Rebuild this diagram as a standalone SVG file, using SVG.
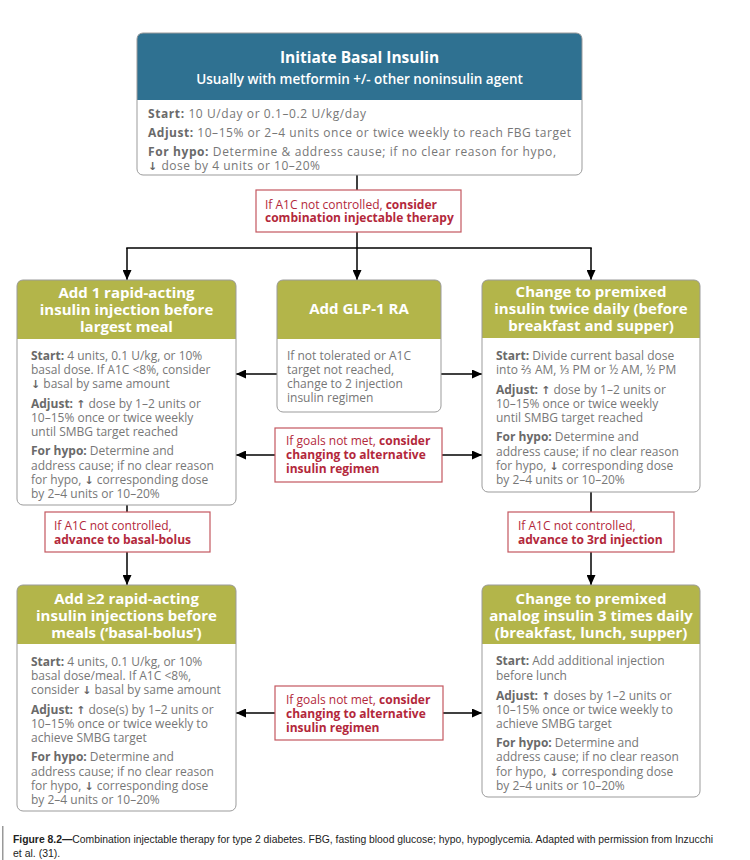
<svg xmlns="http://www.w3.org/2000/svg" width="750" height="860" viewBox="0 0 750 860">
<style>
.hb{fill:#2f7191}
.hg{fill:#b3b54a}
.frame{fill:none;stroke:#9b9b9b;stroke-width:1}
.ht{font-family:"Open Sans","Noto Sans",sans-serif;font-weight:700;fill:#fff;font-size:15px;text-anchor:middle}
.bt{font-family:"Open Sans","Noto Sans",sans-serif;font-size:12px;fill:#777}
.lb{font-weight:700;fill:#6a6a6a}
.ar{font-family:"DejaVu Sans",sans-serif;font-weight:700;font-size:11px;fill:#666}
.rbox{fill:#fff;stroke:#c4575f;stroke-width:1.2}
.rt{font-family:"Open Sans","Noto Sans",sans-serif;font-size:12px;fill:#b3283b}
.rb{font-weight:700}
.conn line{stroke:#000;stroke-width:1.5}
.cap{font-family:"Liberation Sans",Arial,sans-serif;font-size:10.5px;fill:#222}
</style>
<defs>
<marker id="ah" markerUnits="userSpaceOnUse" markerWidth="10" markerHeight="9" refX="10" refY="4.5" orient="auto">
<path d="M0,0 L10,4.5 L0,9 z" fill="#000"/>
</marker>
</defs>
<rect width="750" height="860" fill="#fff"/>

<g class="conn">
<line x1="357" y1="175" x2="357" y2="190"/>
<line x1="357" y1="232" x2="357" y2="248"/>
<line x1="126.25" y1="248" x2="591.75" y2="248"/>
<line x1="127" y1="248" x2="127" y2="280" marker-end="url(#ah)"/>
<line x1="357" y1="248" x2="357" y2="280" marker-end="url(#ah)"/>
<line x1="591" y1="248" x2="591" y2="280" marker-end="url(#ah)"/>
<line x1="277" y1="374" x2="236" y2="374" marker-end="url(#ah)"/>
<line x1="441" y1="374" x2="482" y2="374" marker-end="url(#ah)"/>
<line x1="275" y1="455" x2="236" y2="455" marker-end="url(#ah)"/>
<line x1="442" y1="455" x2="482" y2="455" marker-end="url(#ah)"/>
<line x1="127" y1="505" x2="127" y2="512"/>
<line x1="127" y1="552" x2="127" y2="585" marker-end="url(#ah)"/>
<line x1="591" y1="492" x2="591" y2="512"/>
<line x1="591" y1="552" x2="591" y2="585" marker-end="url(#ah)"/>
<line x1="275" y1="713" x2="236" y2="713" marker-end="url(#ah)"/>
<line x1="443" y1="713" x2="482" y2="713" marker-end="url(#ah)"/>
</g>

<g id="initiate-basal">
<rect x="137" y="33" width="445" height="142" rx="6" fill="#fff"/>
<path class="hb" d="M137,100 V39 Q137,33 143,33 H576 Q582,33 582,39 V100 Z"/>
<rect class="frame" x="137" y="33" width="445" height="142" rx="6"/>
<text class="ht" x="359.5" y="63" style="font-size:15.5px">Initiate Basal Insulin</text>
<text class="ht" x="359.5" y="84" style="font-size:13.5px;font-weight:600">Usually with metformin +/- other noninsulin agent</text>
<text class="bt" x="148" y="117.5" textLength="218"><tspan class="lb">Start:</tspan> 10 U/day or 0.1–0.2 U/kg/day</text>
<text class="bt" x="148" y="136.5" textLength="423"><tspan class="lb">Adjust:</tspan> 10–15% or 2–4 units once or twice weekly to reach FBG target</text>
<text class="bt" x="148" y="156" textLength="408"><tspan class="lb">For hypo:</tspan> Determine &amp; address cause; if no clear reason for hypo,</text>
<text class="bt" x="148" y="169.5" textLength="172"><tspan class="ar">↓</tspan> dose by 4 units or 10–20%</text>
</g>

<g id="cond-combination">
<rect class="rbox" x="256" y="190" width="205" height="42"/>
<text class="rt" x="265" y="208.5">If A1C not controlled, <tspan class="rb">consider</tspan></text>
<text class="rt rb" x="265" y="222">combination injectable therapy</text>
</g>

<g id="add-rapid">
<rect x="17" y="280" width="219" height="225" rx="6" fill="#fff"/>
<path class="hg" d="M17,339 V286 Q17,280 23,280 H230 Q236,280 236,286 V339 Z"/>
<rect class="frame" x="17" y="280" width="219" height="225" rx="6"/>
<text class="ht" x="126.5" y="297.5">Add 1 rapid-acting</text>
<text class="ht" x="126.5" y="314.5">insulin injection before</text>
<text class="ht" x="126.5" y="332">largest meal</text>
<text class="bt" x="31" y="359.5"><tspan class="lb">Start:</tspan> 4 units, 0.1 U/kg, or 10%</text>
<text class="bt" x="31" y="374">basal dose. If A1C &lt;8%, consider</text>
<text class="bt" x="31" y="388"><tspan class="ar">↓</tspan> basal by same amount</text>
<text class="bt" x="31" y="407.5"><tspan class="lb">Adjust:</tspan> <tspan class="ar">↑</tspan> dose by 1–2 units or</text>
<text class="bt" x="31" y="421.5">10–15% once or twice weekly</text>
<text class="bt" x="31" y="436">until SMBG target reached</text>
<text class="bt" x="31" y="455"><tspan class="lb">For hypo:</tspan> Determine and</text>
<text class="bt" x="31" y="469.5">address cause; if no clear reason</text>
<text class="bt" x="31" y="483.5">for hypo, <tspan class="ar">↓</tspan> corresponding dose</text>
<text class="bt" x="31" y="498">by 2–4 units or 10–20%</text>
</g>

<g id="add-glp1">
<rect x="277" y="280" width="164" height="132" rx="6" fill="#fff"/>
<path class="hg" d="M277,339 V286 Q277,280 283,280 H435 Q441,280 441,286 V339 Z"/>
<rect class="frame" x="277" y="280" width="164" height="132" rx="6"/>
<text class="ht" x="359" y="314">Add GLP-1 RA</text>
<text class="bt" x="287" y="359.5">If not tolerated or A1C</text>
<text class="bt" x="287" y="374">target not reached,</text>
<text class="bt" x="287" y="388">change to 2 injection</text>
<text class="bt" x="287" y="402">insulin regimen</text>
</g>

<g id="premixed-twice">
<rect x="482" y="280" width="218" height="212" rx="6" fill="#fff"/>
<path class="hg" d="M482,338 V286 Q482,280 488,280 H694 Q700,280 700,286 V338 Z"/>
<rect class="frame" x="482" y="280" width="218" height="212" rx="6"/>
<text class="ht" x="591" y="297">Change to premixed</text>
<text class="ht" x="591" y="314">insulin twice daily (before</text>
<text class="ht" x="591" y="331">breakfast and supper)</text>
<text class="bt" x="496" y="359.5"><tspan class="lb">Start:</tspan> Divide current basal dose</text>
<text class="bt" x="496" y="374">into ⅔ AM, ⅓ PM or ½ AM, ½ PM</text>
<text class="bt" x="496" y="393.5"><tspan class="lb">Adjust:</tspan> <tspan class="ar">↑</tspan> dose by 1–2 units or</text>
<text class="bt" x="496" y="408">10–15% once or twice weekly</text>
<text class="bt" x="496" y="422">until SMBG target reached</text>
<text class="bt" x="496" y="441"><tspan class="lb">For hypo:</tspan> Determine and</text>
<text class="bt" x="496" y="455.5">address cause; if no clear reason</text>
<text class="bt" x="496" y="469.5">for hypo, <tspan class="ar">↓</tspan> corresponding dose</text>
<text class="bt" x="496" y="483.5">by 2–4 units or 10–20%</text>
</g>

<g id="cond-goals-1">
<rect class="rbox" x="275" y="428" width="167" height="54"/>
<text class="rt" x="286" y="444.5">If goals not met, <tspan class="rb">consider</tspan></text>
<text class="rt rb" x="286" y="459">changing to alternative</text>
<text class="rt rb" x="286" y="473">insulin regimen</text>
</g>

<g id="cond-basal-bolus">
<rect class="rbox" x="45" y="512" width="165" height="40"/>
<text class="rt" x="54" y="530">If A1C not controlled,</text>
<text class="rt rb" x="54" y="543.5">advance to basal-bolus</text>
</g>

<g id="cond-third">
<rect class="rbox" x="508" y="512" width="166" height="40"/>
<text class="rt" x="518" y="530">If A1C not controlled,</text>
<text class="rt rb" x="518" y="543.5">advance to 3rd injection</text>
</g>

<g id="basal-bolus">
<rect x="17" y="585" width="219" height="226" rx="6" fill="#fff"/>
<path class="hg" d="M17,644 V591 Q17,585 23,585 H230 Q236,585 236,591 V644 Z"/>
<rect class="frame" x="17" y="585" width="219" height="226" rx="6"/>
<text class="ht" x="126.5" y="604">Add ≥2 rapid-acting</text>
<text class="ht" x="126.5" y="620.5">insulin injections before</text>
<text class="ht" x="126.5" y="638">meals (‘basal-bolus’)</text>
<text class="bt" x="31" y="666"><tspan class="lb">Start:</tspan> 4 units, 0.1 U/kg, or 10%</text>
<text class="bt" x="31" y="679.5">basal dose/meal. If A1C &lt;8%,</text>
<text class="bt" x="31" y="694">consider <tspan class="ar">↓</tspan> basal by same amount</text>
<text class="bt" x="31" y="714"><tspan class="lb">Adjust:</tspan> <tspan class="ar">↑</tspan> dose(s) by 1–2 units or</text>
<text class="bt" x="31" y="728">10–15% once or twice weekly to</text>
<text class="bt" x="31" y="742">achieve SMBG target</text>
<text class="bt" x="31" y="761"><tspan class="lb">For hypo:</tspan> Determine and</text>
<text class="bt" x="31" y="775.5">address cause; if no clear reason</text>
<text class="bt" x="31" y="789.5">for hypo, <tspan class="ar">↓</tspan> corresponding dose</text>
<text class="bt" x="31" y="804">by 2–4 units or 10–20%</text>
</g>

<g id="premixed-three">
<rect x="482" y="585" width="218" height="212" rx="6" fill="#fff"/>
<path class="hg" d="M482,644 V591 Q482,585 488,585 H694 Q700,585 700,591 V644 Z"/>
<rect class="frame" x="482" y="585" width="218" height="212" rx="6"/>
<text class="ht" x="591" y="604">Change to premixed</text>
<text class="ht" x="591" y="620.5">analog insulin 3 times daily</text>
<text class="ht" x="591" y="638">(breakfast, lunch, supper)</text>
<text class="bt" x="496" y="665"><tspan class="lb">Start:</tspan> Add additional injection</text>
<text class="bt" x="496" y="679.5">before lunch</text>
<text class="bt" x="496" y="699.5"><tspan class="lb">Adjust:</tspan> <tspan class="ar">↑</tspan> doses by 1–2 units or</text>
<text class="bt" x="496" y="714">10–15% once or twice weekly to</text>
<text class="bt" x="496" y="728">achieve SMBG target</text>
<text class="bt" x="496" y="747"><tspan class="lb">For hypo:</tspan> Determine and</text>
<text class="bt" x="496" y="761">address cause; if no clear reason</text>
<text class="bt" x="496" y="775.5">for hypo, <tspan class="ar">↓</tspan> corresponding dose</text>
<text class="bt" x="496" y="789.5">by 2–4 units or 10–20%</text>
</g>

<g id="cond-goals-2">
<rect class="rbox" x="275" y="686" width="168" height="54"/>
<text class="rt" x="286" y="704">If goals not met, <tspan class="rb">consider</tspan></text>
<text class="rt rb" x="286" y="718">changing to alternative</text>
<text class="rt rb" x="286" y="732">insulin regimen</text>
</g>

<g id="caption">
<rect x="2" y="826" width="1.5" height="34" fill="#999"/>
<text class="cap" x="13" y="843" textLength="700" lengthAdjust="spacingAndGlyphs"><tspan font-weight="700">Figure 8.2—</tspan>Combination injectable therapy for type 2 diabetes. FBG, fasting blood glucose; hypo, hypoglycemia. Adapted with permission from Inzucchi</text>
<text class="cap" x="13" y="857">et al. (31).</text>
</g>
</svg>
